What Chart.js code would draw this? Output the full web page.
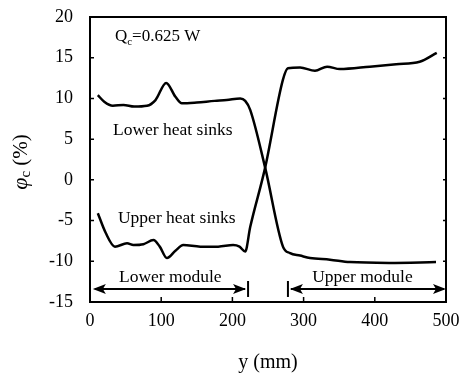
<!DOCTYPE html>
<html>
<head>
<meta charset="utf-8">
<script src="https://cdn.jsdelivr.net/npm/chart.js@4/dist/chart.umd.min.js"></script>
<style>
html,body{margin:0;padding:0;background:#fff;}
#wrap{width:464px;height:378px;position:relative;}
</style>
</head>
<body>
<div id="wrap"><canvas id="c" width="464" height="378"></canvas></div>
<script>
// Position along the module y (mm) and phi_c (%) values
const lowerX = [11, 20, 32, 47, 62, 80, 92, 107, 120, 129, 150, 175, 192, 211, 218, 225, 246, 271, 281, 295, 309, 337, 365, 420, 486];
const lowerY = [10.4, 9.6, 9.1, 9.2, 9.0, 9.1, 9.8, 11.9, 10.2, 9.4, 9.5, 9.7, 9.8, 10.0, 9.7, 8.6, 1.5, -8.2, -9.0, -9.3, -9.6, -9.8, -10.1, -10.2, -10.1];
const upperX = [11, 22, 35, 52, 61, 75, 89, 98, 108, 120, 131, 155, 180, 201, 210, 218, 225, 246, 271, 278, 295, 316, 333, 351, 393, 430, 463, 487];
const upperY = [-4.1, -6.5, -8.2, -7.8, -8.0, -7.9, -7.4, -8.2, -9.6, -8.7, -8.0, -8.2, -8.2, -8.0, -8.2, -8.8, -5.8, 1.5, 12.3, 13.7, 13.8, 13.4, 13.9, 13.6, 13.9, 14.2, 14.5, 15.6];
const seriesNames = ['Lower heat sinks', 'Upper heat sinks'];
const xTicks = [0, 100, 200, 300, 400, 500];
const yTicks = [-15, -10, -5, 0, 5, 10, 15, 20];
// module extents (mm)
const moduleNames = ['Lower module', 'Upper module'];
const moduleStart = [4, 278];
const moduleEnd = [222, 500];

const FONT = '"Liberation Serif", "Times New Roman", serif';

function pts(xs, ys) { return xs.map((x, i) => ({x: x, y: ys[i]})); }

const annot = {
  id: 'annot',
  afterDraw(chart) {
    const ctx = chart.ctx;
    const xs = chart.scales.x, ys = chart.scales.y;
    const a = chart.chartArea;
    ctx.save();
    ctx.strokeStyle = '#000';
    ctx.fillStyle = '#000';
    // frame top & right
    ctx.lineWidth = 2;
    ctx.beginPath();
    ctx.moveTo(a.left, a.top); ctx.lineTo(a.right, a.top); ctx.lineTo(a.right, a.bottom);
    ctx.stroke();
    // inward ticks
    ctx.lineWidth = 1.5;
    ctx.beginPath();
    yTicks.forEach(v => {
      const p = ys.getPixelForValue(v);
      ctx.moveTo(a.left, p); ctx.lineTo(a.left + 4, p);
      ctx.moveTo(a.right, p); ctx.lineTo(a.right - 3, p);
    });
    xTicks.forEach(v => {
      const p = xs.getPixelForValue(v);
      ctx.moveTo(p, a.bottom); ctx.lineTo(p, a.bottom - 5);
    });
    ctx.stroke();

    // texts
    ctx.textBaseline = 'alphabetic';
    ctx.textAlign = 'left';
    ctx.font = '17px ' + FONT;
    // Q_c=0.625 W
    let qx = xs.getPixelForValue(35), qy = ys.getPixelForValue(17.0);
    ctx.fillText('Q', qx, qy);
    let w = ctx.measureText('Q').width;
    ctx.font = '11px ' + FONT;
    ctx.fillText('c', qx + w, qy + 4);
    let w2 = ctx.measureText('c').width;
    ctx.font = '17px ' + FONT;
    ctx.fillText('=0.625 W', qx + w + w2, qy);

    ctx.font = '17.5px ' + FONT;
    ctx.fillText(seriesNames[0], xs.getPixelForValue(32.3), ys.getPixelForValue(5.5));
    ctx.fillText(seriesNames[1], xs.getPixelForValue(39.3), ys.getPixelForValue(-5.3));
    ctx.fillText(moduleNames[0], xs.getPixelForValue(40.7), ys.getPixelForValue(-12.6));
    ctx.fillText(moduleNames[1], xs.getPixelForValue(312), ys.getPixelForValue(-12.6));

    // module arrows
    const ay = ys.getPixelForValue(-13.4);
    function head(tip, dir) {
      ctx.beginPath();
      ctx.moveTo(tip, ay);
      ctx.lineTo(tip - dir * 13, ay - 5);
      ctx.lineTo(tip - dir * 10, ay);
      ctx.lineTo(tip - dir * 13, ay + 5);
      ctx.closePath();
      ctx.fill();
    }
    ctx.lineWidth = 2;
    // lower module
    let l0 = xs.getPixelForValue(moduleStart[0]);
    let l1 = xs.getPixelForValue(moduleEnd[0]);
    ctx.beginPath(); ctx.moveTo(l0 + 2, ay); ctx.lineTo(l1 - 3, ay); ctx.stroke();
    head(l0, -1); head(l1 - 2, 1);
    ctx.beginPath(); ctx.moveTo(l1, ay - 8); ctx.lineTo(l1, ay + 8); ctx.stroke();
    // upper module
    let u0 = xs.getPixelForValue(moduleStart[1]);
    let u1 = xs.getPixelForValue(moduleEnd[1]);
    ctx.beginPath(); ctx.moveTo(u0 + 3, ay); ctx.lineTo(u1 - 2, ay); ctx.stroke();
    head(u0 + 2, -1); head(u1, 1);
    ctx.beginPath(); ctx.moveTo(u0, ay - 8); ctx.lineTo(u0, ay + 8); ctx.stroke();

    // y axis title: phi_c (%)
    ctx.translate(21, 162);
    ctx.rotate(-Math.PI / 2);
    ctx.textBaseline = 'middle';
    const parts = [
      {t: '\u03C6', f: 'italic 22px ' + FONT, dy: 0},
      {t: 'c', f: '15px ' + FONT, dy: 5},
      {t: ' (%)', f: '21px ' + FONT, dy: 0}
    ];
    let total = 0;
    parts.forEach(p => { ctx.font = p.f; p.w = ctx.measureText(p.t).width; total += p.w; });
    let cx = -total / 2;
    parts.forEach(p => { ctx.font = p.f; ctx.fillText(p.t, cx, p.dy); cx += p.w; });
    ctx.restore();
  }
};

new Chart(document.getElementById('c'), {
  type: 'line',
  data: {
    datasets: [
      {label: seriesNames[0], data: pts(lowerX, lowerY), borderColor: '#000', borderWidth: 2.5, pointRadius: 0, cubicInterpolationMode: 'monotone', fill: false},
      {label: seriesNames[1], data: pts(upperX, upperY), borderColor: '#000', borderWidth: 2.5, pointRadius: 0, cubicInterpolationMode: 'monotone', fill: false}
    ]
  },
  options: {
    responsive: false,
    animation: false,
    devicePixelRatio: 1,
    layout: {padding: {left: 0, top: 17, right: 18, bottom: 0}},
    plugins: {legend: {display: false}, tooltip: {enabled: false}},
    scales: {
      x: {
        type: 'linear', min: 0, max: 500,
        afterFit(s) { s.height = 76; s.paddingLeft = 0; s.paddingRight = 0; s.paddingTop = 0; s.paddingBottom = 0; },
        afterBuildTicks(s) { s.ticks = xTicks.map(v => ({value: v})); },
        grid: {display: false, drawTicks: false},
        border: {display: true, color: '#000', width: 2},
        ticks: {color: '#000', font: {family: FONT, size: 18}, padding: 8, maxRotation: 0},
        title: {display: true, text: 'y (mm)', color: '#000', font: {family: FONT, size: 20}, padding: {top: 0, bottom: 3}}
      },
      y: {
        type: 'linear', min: -15, max: 20,
        afterFit(s) { s.width = 90; s.paddingLeft = 0; s.paddingRight = 0; s.paddingTop = 0; s.paddingBottom = 0; },
        afterBuildTicks(s) { s.ticks = yTicks.map(v => ({value: v})); },
        grid: {display: false, drawTicks: false},
        border: {display: true, color: '#000', width: 2},
        ticks: {color: '#000', font: {family: FONT, size: 18}, padding: 17}
      }
    }
  },
  plugins: [annot]
});
</script>
</body>
</html>
